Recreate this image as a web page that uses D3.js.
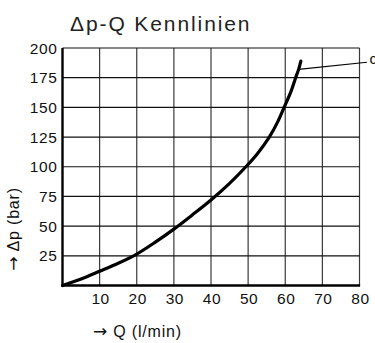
<!DOCTYPE html>
<html><head><meta charset="utf-8">
<script src="https://cdn.jsdelivr.net/npm/d3@7/dist/d3.min.js"></script>
<style>
html,body{margin:0;padding:0;background:#fff;}
svg{display:block;font-family:"Liberation Sans",Arial,Helvetica,sans-serif;}
.arr{font-family:"DejaVu Sans",sans-serif;}
</style></head>
<body>
<svg id="chart" width="375" height="343"></svg>
<script>
const title = "\u0394p-Q Kennlinien";
const xLabel = ["\u2192", " Q (l/min)"];
const yLabel = ["\u2192", " \u0394p (bar)"];
const xTicks = [10, 20, 30, 40, 50, 60, 70, 80];
const yTicks = [25, 50, 75, 100, 125, 150, 175, 200];
const flowQ = [0, 5, 10, 15, 20, 25, 30, 35, 40, 45, 49.4, 52.5, 55.7, 58, 59.7, 61.5, 62.8, 63.6, 64.2];
const deltaP = [0, 5.5, 12, 18.7, 26.5, 36.5, 47.5, 59.5, 72, 86, 100, 111, 125, 138, 150, 163, 175, 182, 189];
const curveLabel = "c";
const leaderQ = [63.6, 82];
const leaderP = [182, 188];

const svg = d3.select("#chart");
const x = d3.scaleLinear().domain([0, 80]).range([62.5, 359.5]);
const y = d3.scaleLinear().domain([0, 200]).range([285.5, 48]);

// grid
svg.append("g").selectAll("line").data(xTicks).join("line")
  .attr("x1", d => x(d)).attr("x2", d => x(d))
  .attr("y1", y(0)).attr("y2", y(200))
  .attr("stroke", "#3a3a3a").attr("stroke-width", 1.2);
svg.append("g").selectAll("line").data(yTicks).join("line")
  .attr("x1", x(0)).attr("x2", x(80))
  .attr("y1", d => y(d)).attr("y2", d => y(d))
  .attr("stroke", "#111").attr("stroke-width", 1.2);

// axes lines
svg.append("line").attr("x1", x(0)).attr("x2", x(0)).attr("y1", y(0) + 1).attr("y2", y(200))
  .attr("stroke", "#000").attr("stroke-width", 2.4);
svg.append("line").attr("x1", x(0) - 1).attr("x2", x(80) + 0.6).attr("y1", y(0)).attr("y2", y(0))
  .attr("stroke", "#000").attr("stroke-width", 2.4);

// tick labels
svg.append("g").selectAll("text").data(yTicks).join("text")
  .attr("x", x(0) - 5).attr("y", d => y(d) + 5.5)
  .attr("text-anchor", "end").attr("font-size", 15.5).attr("letter-spacing", 0.6)
  .attr("fill", "#111").text(d => d);
svg.append("g").selectAll("text").data(xTicks).join("text")
  .attr("x", d => x(d) + 1).attr("y", y(0) + 18.5)
  .attr("text-anchor", "middle").attr("font-size", 15.5).attr("letter-spacing", 0.6)
  .attr("fill", "#111").text(d => d);

// title
svg.append("text").attr("x", 70).attr("y", 31).attr("font-size", 21)
  .attr("letter-spacing", 1.9).attr("fill", "#222").text(title);

// axis labels
const xl = svg.append("text").attr("x", 93).attr("y", 337).attr("font-size", 16)
  .attr("letter-spacing", 0.8).attr("fill", "#111");
xl.append("tspan").attr("class", "arr").attr("font-size", 17).text(xLabel[0]);
xl.append("tspan").text(xLabel[1]);
const yl = svg.append("text").attr("transform", "translate(19,229) rotate(-90)")
  .attr("text-anchor", "middle").attr("font-size", 16)
  .attr("letter-spacing", 0.8).attr("fill", "#111");
yl.append("tspan").attr("class", "arr").attr("font-size", 17).text(yLabel[0]);
yl.append("tspan").text(yLabel[1]);

// curve
const pts = flowQ.map((q, i) => [q, deltaP[i]]);
const line = d3.line().x(d => x(d[0])).y(d => y(d[1])).curve(d3.curveCatmullRom.alpha(0.5));
svg.append("path").attr("d", line(pts)).attr("fill", "none")
  .attr("stroke", "#000").attr("stroke-width", 3.2).attr("stroke-linecap", "round");

// leader + label
svg.append("line").attr("x1", x(leaderQ[0])).attr("y1", y(leaderP[0]))
  .attr("x2", x(leaderQ[1])).attr("y2", y(leaderP[1]))
  .attr("stroke", "#000").attr("stroke-width", 1.2);
svg.append("text").attr("x", x(leaderQ[1]) + 2.5).attr("y", y(leaderP[1]) + 2)
  .attr("font-size", 15).attr("fill", "#111").text(curveLabel);
</script>
</body></html>
